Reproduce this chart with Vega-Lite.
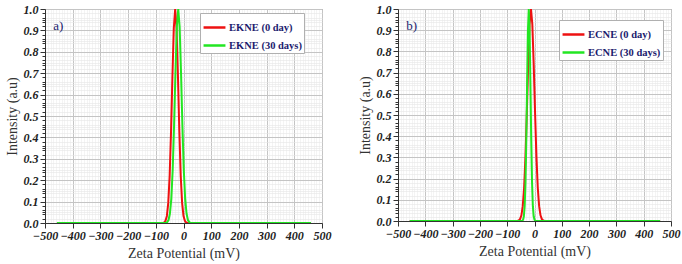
{
  "$schema": "https://vega.github.io/schema/vega-lite/v6.json",
  "padding": {"left": 4, "top": 2, "right": 0, "bottom": 0},
  "background": "white",
  "config": {
    "view": {"stroke": "#8a8a8a", "strokeWidth": 1},
    "font": "Liberation Serif",
    "axis": {
      "labelFont": "Liberation Serif",
      "labelFontStyle": "italic",
      "labelFontWeight": "bold",
      "labelFontSize": 12,
      "labelColor": "#222",
      "labelOverlap": false,
      "labelFlush": false,
      "titleFont": "Liberation Serif",
      "titleFontWeight": "normal",
      "titleFontSize": 14,
      "titleColor": "#333",
      "domainColor": "#333",
      "tickColor": "#333"
    },
    "legend": {
      "labelFont": "Liberation Serif",
      "labelFontWeight": "bold",
      "labelFontSize": 10.5,
      "labelColor": "#1c1c6e",
      "symbolType": "stroke",
      "symbolSize": 480,
      "symbolStrokeWidth": 2.5,
      "fillColor": "white",
      "strokeColor": "#b0b0b0",
      "padding": 2,
      "rowPadding": -14,
      "labelOffset": 2
    }
  },
  "datasets": {
    "a": [
      {"mV": -457, "I": 0, "s": "EKNE (0 day)"},
      {"mV": -75, "I": 0, "s": "EKNE (0 day)"},
      {"mV": -70, "I": 0.002, "s": "EKNE (0 day)"},
      {"mV": -65, "I": 0.010, "s": "EKNE (0 day)"},
      {"mV": -60, "I": 0.033, "s": "EKNE (0 day)"},
      {"mV": -55, "I": 0.094, "s": "EKNE (0 day)"},
      {"mV": -50, "I": 0.220, "s": "EKNE (0 day)"},
      {"mV": -45, "I": 0.427, "s": "EKNE (0 day)"},
      {"mV": -40, "I": 0.685, "s": "EKNE (0 day)"},
      {"mV": -35, "I": 0.910, "s": "EKNE (0 day)"},
      {"mV": -30, "I": 1.0, "s": "EKNE (0 day)"},
      {"mV": -25, "I": 0.910, "s": "EKNE (0 day)"},
      {"mV": -20, "I": 0.685, "s": "EKNE (0 day)"},
      {"mV": -15, "I": 0.427, "s": "EKNE (0 day)"},
      {"mV": -10, "I": 0.220, "s": "EKNE (0 day)"},
      {"mV": -5, "I": 0.094, "s": "EKNE (0 day)"},
      {"mV": 0, "I": 0.033, "s": "EKNE (0 day)"},
      {"mV": 5, "I": 0.010, "s": "EKNE (0 day)"},
      {"mV": 10, "I": 0.002, "s": "EKNE (0 day)"},
      {"mV": 15, "I": 0, "s": "EKNE (0 day)"},
      {"mV": 460, "I": 0, "s": "EKNE (0 day)"},
      {"mV": -457, "I": 0, "s": "EKNE (30 days)"},
      {"mV": -64, "I": 0, "s": "EKNE (30 days)"},
      {"mV": -59, "I": 0.004, "s": "EKNE (30 days)"},
      {"mV": -54, "I": 0.014, "s": "EKNE (30 days)"},
      {"mV": -49, "I": 0.044, "s": "EKNE (30 days)"},
      {"mV": -44, "I": 0.114, "s": "EKNE (30 days)"},
      {"mV": -39, "I": 0.249, "s": "EKNE (30 days)"},
      {"mV": -34, "I": 0.458, "s": "EKNE (30 days)"},
      {"mV": -29, "I": 0.707, "s": "EKNE (30 days)"},
      {"mV": -24, "I": 0.917, "s": "EKNE (30 days)"},
      {"mV": -19, "I": 1.0, "s": "EKNE (30 days)"},
      {"mV": -14, "I": 0.917, "s": "EKNE (30 days)"},
      {"mV": -9, "I": 0.707, "s": "EKNE (30 days)"},
      {"mV": -4, "I": 0.458, "s": "EKNE (30 days)"},
      {"mV": 1, "I": 0.249, "s": "EKNE (30 days)"},
      {"mV": 6, "I": 0.114, "s": "EKNE (30 days)"},
      {"mV": 11, "I": 0.044, "s": "EKNE (30 days)"},
      {"mV": 16, "I": 0.014, "s": "EKNE (30 days)"},
      {"mV": 21, "I": 0.004, "s": "EKNE (30 days)"},
      {"mV": 26, "I": 0, "s": "EKNE (30 days)"},
      {"mV": 460, "I": 0, "s": "EKNE (30 days)"}
    ],
    "b": [
      {"mV": -457, "I": 0, "s": "ECNE (0 day)"},
      {"mV": -63, "I": 0, "s": "ECNE (0 day)"},
      {"mV": -58, "I": 0.0025, "s": "ECNE (0 day)"},
      {"mV": -53, "I": 0.009, "s": "ECNE (0 day)"},
      {"mV": -48, "I": 0.027, "s": "ECNE (0 day)"},
      {"mV": -43, "I": 0.070, "s": "ECNE (0 day)"},
      {"mV": -38, "I": 0.157, "s": "ECNE (0 day)"},
      {"mV": -33, "I": 0.306, "s": "ECNE (0 day)"},
      {"mV": -28, "I": 0.514, "s": "ECNE (0 day)"},
      {"mV": -23, "I": 0.744, "s": "ECNE (0 day)"},
      {"mV": -18, "I": 0.929, "s": "ECNE (0 day)"},
      {"mV": -13, "I": 1.0, "s": "ECNE (0 day)"},
      {"mV": -8, "I": 0.929, "s": "ECNE (0 day)"},
      {"mV": -3, "I": 0.744, "s": "ECNE (0 day)"},
      {"mV": 2, "I": 0.514, "s": "ECNE (0 day)"},
      {"mV": 7, "I": 0.306, "s": "ECNE (0 day)"},
      {"mV": 12, "I": 0.157, "s": "ECNE (0 day)"},
      {"mV": 17, "I": 0.070, "s": "ECNE (0 day)"},
      {"mV": 22, "I": 0.027, "s": "ECNE (0 day)"},
      {"mV": 27, "I": 0.009, "s": "ECNE (0 day)"},
      {"mV": 32, "I": 0.0025, "s": "ECNE (0 day)"},
      {"mV": 37, "I": 0, "s": "ECNE (0 day)"},
      {"mV": 460, "I": 0, "s": "ECNE (0 day)"},
      {"mV": -457, "I": 0, "s": "ECNE (30 days)"},
      {"mV": -48, "I": 0, "s": "ECNE (30 days)"},
      {"mV": -45, "I": 0.001, "s": "ECNE (30 days)"},
      {"mV": -42, "I": 0.0054, "s": "ECNE (30 days)"},
      {"mV": -39, "I": 0.022, "s": "ECNE (30 days)"},
      {"mV": -36, "I": 0.070, "s": "ECNE (30 days)"},
      {"mV": -33, "I": 0.182, "s": "ECNE (30 days)"},
      {"mV": -30, "I": 0.383, "s": "ECNE (30 days)"},
      {"mV": -27, "I": 0.653, "s": "ECNE (30 days)"},
      {"mV": -24, "I": 0.899, "s": "ECNE (30 days)"},
      {"mV": -21, "I": 1.0, "s": "ECNE (30 days)"},
      {"mV": -18, "I": 0.899, "s": "ECNE (30 days)"},
      {"mV": -15, "I": 0.653, "s": "ECNE (30 days)"},
      {"mV": -12, "I": 0.383, "s": "ECNE (30 days)"},
      {"mV": -9, "I": 0.182, "s": "ECNE (30 days)"},
      {"mV": -6, "I": 0.070, "s": "ECNE (30 days)"},
      {"mV": -3, "I": 0.022, "s": "ECNE (30 days)"},
      {"mV": 0, "I": 0.0054, "s": "ECNE (30 days)"},
      {"mV": 3, "I": 0.001, "s": "ECNE (30 days)"},
      {"mV": 6, "I": 0, "s": "ECNE (30 days)"},
      {"mV": 460, "I": 0, "s": "ECNE (30 days)"}
    ],
    "labA": [{"t": "a)", "mV": -470, "I": 0.92}],
    "labB": [{"t": "b)", "mV": -470, "I": 0.92}]
  },
  "resolve": {"scale": {"color": "independent"}},
  "spacing": 25,
  "hconcat": [
    {
      "width": 277,
      "height": 214,
      "resolve": {"axis": {"x": "independent", "y": "independent"}},
      "layer": [
        {
          "data": {"name": "a"},
          "mark": {"type": "line", "opacity": 0},
          "encoding": {
            "x": {"field": "mV", "type": "quantitative", "scale": {"domain": [-500, 500], "nice": false},
              "axis": {"orient": "bottom", "title": null, "labels": false, "ticks": false, "domain": false, "grid": true, "gridColor": "#ececec", "gridWidth": 0.6, "values": [-490,-480,-470,-460,-440,-430,-420,-410,-390,-380,-370,-360,-340,-330,-320,-310,-290,-280,-270,-260,-240,-230,-220,-210,-190,-180,-170,-160,-140,-130,-120,-110,-90,-80,-70,-60,-40,-30,-20,-10,10,20,30,40,60,70,80,90,110,120,130,140,160,170,180,190,210,220,230,240,260,270,280,290,310,320,330,340,360,370,380,390,410,420,430,440,460,470,480,490,-450,-350,-250,-150,-50,50,150,250,350,450]}},
            "y": {"field": "I", "type": "quantitative", "scale": {"domain": [0, 1], "nice": false},
              "axis": {"orient": "left", "title": null, "labels": false, "ticks": true, "tickSize": 3, "domain": false, "grid": true, "gridColor": "#e6e6e6", "gridWidth": 0.6, "values": [0.02,0.04,0.05,0.06,0.08,0.12,0.14,0.15,0.16,0.18,0.22,0.24,0.25,0.26,0.28,0.32,0.34,0.35,0.36,0.38,0.42,0.44,0.45,0.46,0.48,0.52,0.54,0.55,0.56,0.58,0.62,0.64,0.65,0.66,0.68,0.72,0.74,0.75,0.76,0.78,0.82,0.84,0.85,0.86,0.88,0.92,0.94,0.95,0.96,0.98]}}
          }
        },
        {
          "data": {"name": "a"},
          "mark": {"type": "line", "strokeWidth": 2, "clip": true},
          "encoding": {
            "x": {"field": "mV", "type": "quantitative", "scale": {"domain": [-500, 500], "nice": false},
              "axis": {"orient": "bottom", "title": "Zeta Potential (mV)", "values": [-500,-400,-300,-200,-100,0,100,200,300,400,500], "grid": true, "gridColor": "#c4c4c4", "gridWidth": 1, "tickSize": 5, "labelPadding": 2, "titlePadding": 5}},
            "y": {"field": "I", "type": "quantitative", "scale": {"domain": [0, 1], "nice": false},
              "axis": {"orient": "left", "title": "Intensity (a.u)", "values": [0,0.1,0.2,0.3,0.4,0.5,0.6,0.7,0.8,0.9,1.0], "format": ".1f", "grid": true, "gridColor": "#c4c4c4", "gridWidth": 1, "tickSize": 5, "labelPadding": 2, "titlePadding": 4}},
            "color": {"field": "s", "type": "nominal",
              "scale": {"domain": ["EKNE (0 day)", "EKNE (30 days)"], "range": ["#ee1111", "#22e622"]},
              "legend": {"title": null, "orient": "none", "legendX": 155, "legendY": 4}}
          }
        },
        {
          "data": {"name": "labA"},
          "mark": {"type": "text", "align": "left", "baseline": "middle", "font": "Liberation Serif", "fontSize": 13, "color": "#1c1c6e"},
          "encoding": {
            "x": {"field": "mV", "type": "quantitative", "axis": null},
            "y": {"field": "I", "type": "quantitative", "axis": null},
            "text": {"field": "t"}
          }
        }
      ]
    },
    {
      "width": 273,
      "height": 212,
      "resolve": {"axis": {"x": "independent", "y": "independent"}},
      "layer": [
        {
          "data": {"name": "b"},
          "mark": {"type": "line", "opacity": 0},
          "encoding": {
            "x": {"field": "mV", "type": "quantitative", "scale": {"domain": [-500, 500], "nice": false},
              "axis": {"orient": "bottom", "title": null, "labels": false, "ticks": false, "domain": false, "grid": true, "gridColor": "#ececec", "gridWidth": 0.6, "values": [-490,-480,-470,-460,-440,-430,-420,-410,-390,-380,-370,-360,-340,-330,-320,-310,-290,-280,-270,-260,-240,-230,-220,-210,-190,-180,-170,-160,-140,-130,-120,-110,-90,-80,-70,-60,-40,-30,-20,-10,10,20,30,40,60,70,80,90,110,120,130,140,160,170,180,190,210,220,230,240,260,270,280,290,310,320,330,340,360,370,380,390,410,420,430,440,460,470,480,490,-450,-350,-250,-150,-50,50,150,250,350,450]}},
            "y": {"field": "I", "type": "quantitative", "scale": {"domain": [0, 1], "nice": false},
              "axis": {"orient": "left", "title": null, "labels": false, "ticks": true, "tickSize": 3, "domain": false, "grid": true, "gridColor": "#e6e6e6", "gridWidth": 0.6, "values": [0.02,0.04,0.05,0.06,0.08,0.12,0.14,0.15,0.16,0.18,0.22,0.24,0.25,0.26,0.28,0.32,0.34,0.35,0.36,0.38,0.42,0.44,0.45,0.46,0.48,0.52,0.54,0.55,0.56,0.58,0.62,0.64,0.65,0.66,0.68,0.72,0.74,0.75,0.76,0.78,0.82,0.84,0.85,0.86,0.88,0.92,0.94,0.95,0.96,0.98]}}
          }
        },
        {
          "data": {"name": "b"},
          "mark": {"type": "line", "strokeWidth": 2, "clip": true},
          "encoding": {
            "x": {"field": "mV", "type": "quantitative", "scale": {"domain": [-500, 500], "nice": false},
              "axis": {"orient": "bottom", "title": "Zeta Potential (mV)", "values": [-500,-400,-300,-200,-100,0,100,200,300,400,500], "grid": true, "gridColor": "#c4c4c4", "gridWidth": 1, "tickSize": 5, "labelPadding": 2, "titlePadding": 5}},
            "y": {"field": "I", "type": "quantitative", "scale": {"domain": [0, 1], "nice": false},
              "axis": {"orient": "left", "title": "Intensity (a.u)", "values": [0,0.1,0.2,0.3,0.4,0.5,0.6,0.7,0.8,0.9,1.0], "format": ".1f", "grid": true, "gridColor": "#c4c4c4", "gridWidth": 1, "tickSize": 5, "labelPadding": 2, "titlePadding": 4}},
            "color": {"field": "s", "type": "nominal",
              "scale": {"domain": ["ECNE (0 day)", "ECNE (30 days)"], "range": ["#ee1111", "#22e622"]},
              "legend": {"title": null, "orient": "none", "legendX": 161, "legendY": 11}}
          }
        },
        {
          "data": {"name": "labB"},
          "mark": {"type": "text", "align": "left", "baseline": "middle", "font": "Liberation Serif", "fontSize": 13, "color": "#1c1c6e"},
          "encoding": {
            "x": {"field": "mV", "type": "quantitative", "axis": null},
            "y": {"field": "I", "type": "quantitative", "axis": null},
            "text": {"field": "t"}
          }
        }
      ]
    }
  ]
}
